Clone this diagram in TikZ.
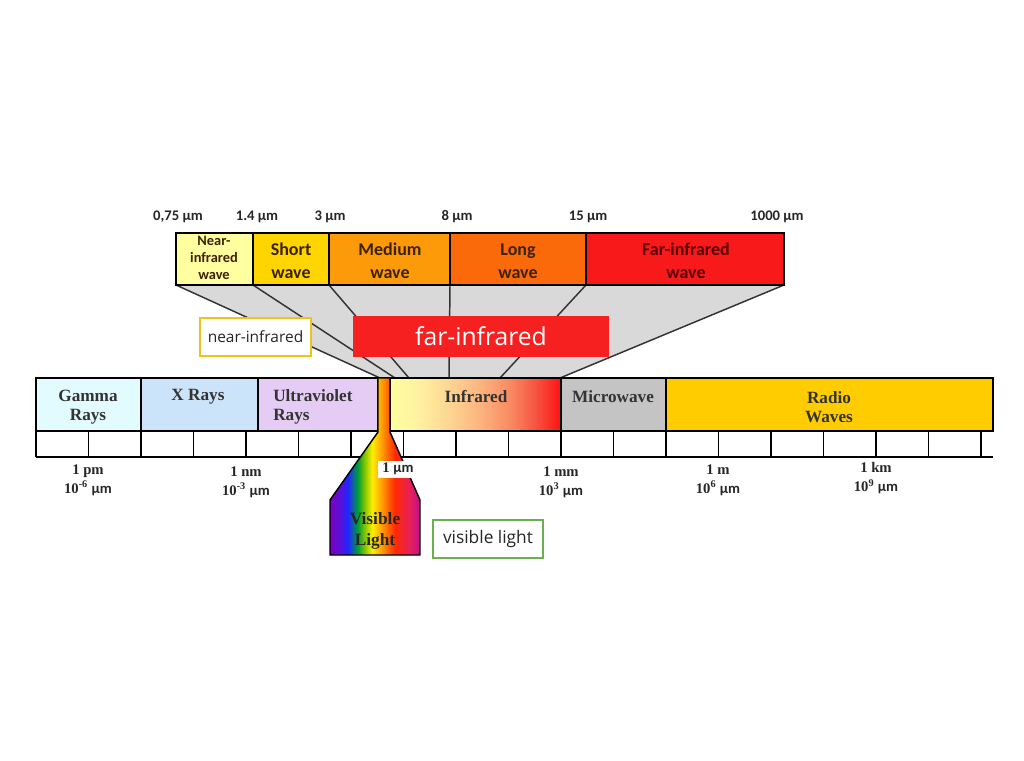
\documentclass[tikz,border=0pt]{standalone}
\usepackage{fontspec}
\setmainfont{Liberation Serif}
\newfontfamily\calfont{Carlito}
\newfontfamily\osfont{Open Sans}
\definecolor{nirc}{HTML}{FFFFA0}
\definecolor{swc}{HTML}{FFD500}
\definecolor{mwc}{HTML}{FD9A0A}
\definecolor{lwc}{HTML}{FB6A0A}
\definecolor{fwc}{HTML}{F81A1A}
\definecolor{gamc}{HTML}{E2FBFF}
\definecolor{xrc}{HTML}{CCE4FA}
\definecolor{uvc}{HTML}{E5CCF4}
\definecolor{mic}{HTML}{C4C4C4}
\definecolor{radc}{HTML}{FFCC00}
\definecolor{fanc}{HTML}{D9D9D9}
\definecolor{fanline}{HTML}{333333}
\definecolor{redbox}{HTML}{F72020}
\definecolor{nirborder}{HTML}{F2C21B}
\definecolor{visborder}{HTML}{6AB04C}
\definecolor{toptxtc}{HTML}{3D2200}
\definecolor{fartxtc}{HTML}{5A0000}
\definecolor{bartxtc}{HTML}{333333}
% rainbow
\definecolor{rvio}{HTML}{7A00C0}
\definecolor{rvio2}{HTML}{5A10D8}
\definecolor{rblu}{HTML}{1E28FF}
\definecolor{rgrn}{HTML}{00A030}
\definecolor{rygr}{HTML}{8CC800}
\definecolor{ryel}{HTML}{FFEE00}
\definecolor{rorg}{HTML}{FF9900}
\definecolor{rred}{HTML}{FF2A00}
\definecolor{rcrim}{HTML}{E8205A}
\definecolor{rmag}{HTML}{C0108A}
% infrared
\definecolor{ira}{HTML}{FFFFA0}
\definecolor{irb}{HTML}{FFF0A0}
\definecolor{irc}{HTML}{FDD592}
\definecolor{ird}{HTML}{FCB47E}
\definecolor{ire}{HTML}{F98A62}
\definecolor{irf}{HTML}{F65542}
\definecolor{irg}{HTML}{FF1212}
\pgfdeclarehorizontalshading{rainbowshade}{100bp}{color(0bp)=(rvio); color(25bp)=(rvio); color(30.5bp)=(rvio2); color(35bp)=(rblu); color(40.5bp)=(rgrn); color(44.5bp)=(rygr); color(48.5bp)=(ryel); color(54bp)=(rorg); color(61bp)=(rred); color(69bp)=(rcrim); color(75bp)=(rmag); color(100bp)=(rmag)}
\pgfdeclarehorizontalshading{irshade}{100bp}{color(0bp)=(ira); color(25bp)=(ira); color(33.8bp)=(irb); color(42.5bp)=(irc); color(51.3bp)=(ird); color(60.1bp)=(ire); color(67.4bp)=(irf); color(75bp)=(irg); color(100bp)=(irg)}
\begin{document}
\begin{tikzpicture}[x=0.75pt,y=-0.75pt,
  topbox/.style={draw=black, line width=1.1pt},
  barline/.style={draw=black, line width=1.4pt},
  fanedge/.style={draw=fanline, line width=1.1pt},
  toptxt/.style={font=\calfont\bfseries\fontsize{13.5}{17.25}\selectfont, text=toptxtc, align=center, inner sep=0pt},
  topscale/.style={font=\calfont\bfseries\fontsize{11}{13}\selectfont, text=black!85, inner sep=0pt},
  bartxt/.style={font=\bfseries\fontsize{12.9}{14.25}\selectfont, text=bartxtc, inner sep=0pt},
  scaletxt/.style={font=\bfseries\fontsize{11}{14.25}\selectfont, text=black!85, align=center, inner sep=0pt},
  annot/.style={font=\osfont, fill=white, line width=1.1pt, inner sep=0pt}
]
\useasboundingbox (0,0) rectangle (1024,760);

% fan coordinates
\coordinate (t0) at (176,285); \coordinate (b0) at (380,378);
\coordinate (t1) at (253,285); \coordinate (b1) at (395,378);
\coordinate (t2) at (329,285); \coordinate (b2) at (409,378);
\coordinate (t3) at (450,285); \coordinate (b3) at (449,378);
\coordinate (t4) at (586,285); \coordinate (b4) at (500,378);
\coordinate (t5) at (784,285); \coordinate (b5) at (560,378);
\fill[fanc] (t0) -- (t5) -- (b5) -- (b0) -- cycle;
\foreach \i in {0,...,5} \draw[fanedge] (t\i) -- (b\i);

% top band
\filldraw[topbox, fill=nirc] (176,233) rectangle (253,285);
\filldraw[topbox, fill=swc] (253,233) rectangle (329,285);
\filldraw[topbox, fill=mwc] (329,233) rectangle (450,285);
\filldraw[topbox, fill=lwc] (450,233) rectangle (586,285);
\filldraw[topbox, fill=fwc] (586,233) rectangle (784,285);
\node[toptxt, font=\calfont\bfseries\fontsize{10.8}{12.75}\selectfont] (nirw) at (214,258) {Near-\\infrared\\wave};
\node[toptxt] (sw) at (291,261) {Short\\wave};
\node[toptxt] (mw) at (390,261) {Medium\\wave};
\node[toptxt] (lw) at (518,261) {Long\\wave};
\node[toptxt, text=fartxtc] (fw) at (686,261) {Far-infrared\\wave};

\node[topscale] (s0) at (178,217) {0,75 µm};
\node[topscale] (s1) at (257,217) {1.4 µm};
\node[topscale] (s2) at (330,217) {3 µm};
\node[topscale] (s3) at (457,217) {8 µm};
\node[topscale] (s4) at (588,217) {15 µm};
\node[topscale] (s5) at (777,217) {1000 µm};

% main bar
\fill[gamc] (36,378) rectangle (141,431);
\fill[xrc] (141,378) rectangle (258,431);
\fill[uvc] (258,378) rectangle (378,431);
\shade[shading=irshade] (390,378) rectangle (561,431);
\fill[mic] (561,378) rectangle (666,431);
\fill[radc] (666,378) rectangle (993,431);
\draw[barline] (36,378) rectangle (993,431);
\foreach \xx in {141,258,378,390,561,666} \draw[barline] (\xx,378) -- (\xx,431);
\draw[barline] (36,457) -- (993,457);
\foreach \k in {0,...,18} \draw[barline] ({36+52.5*\k},431) -- ({36+52.5*\k},457);

% funnel
\shade[shading=rainbowshade, draw=black, line width=1.1pt] (378,378) -- (390,378) -- (390,432) -- (420,500) -- (420,555) -- (330,555) -- (330,500) -- (378,432) -- cycle;
\node[font=\bfseries\fontsize{13}{15.75}\selectfont, text=black!85, align=center, inner sep=0pt] (vis) at (375,531) {Visible\\Light};

% bar labels
\node[bartxt, align=center] (gam) at (88,407) {Gamma\\Rays};
\node[bartxt] (xr) at (198,397) {X Rays};
\node[bartxt, align=left, anchor=west] (uv) at (273,407) {Ultraviolet\\Rays};
\node[bartxt] (ir) at (476,397) {Infrared};
\node[bartxt] (mi) at (613,397) {Microwave};
\node[bartxt, align=center] (rad) at (829,407) {Radio\\Waves};

% scale labels
\node[scaletxt] (l1) at (88,480) {1 pm\\10\textsuperscript{-6} {\calfont µm}};
\node[scaletxt] (l2) at (246,482) {1 nm\\10\textsuperscript{-3} {\calfont µm}};
\node[scaletxt, fill=white, minimum width=30.75pt, minimum height=12.75pt] (l3) at (398,469) {1 {\calfont µm}};
\node[scaletxt] (l4) at (561,482) {1 mm\\10\textsuperscript{3} {\calfont µm}};
\node[scaletxt] (l5) at (718,480) {1 m\\10\textsuperscript{6} {\calfont µm}};
\node[scaletxt] (l6) at (876,478) {1 km\\10\textsuperscript{9} {\calfont µm}};

% annotations
\node[annot, draw=nirborder, minimum width=83.25pt, minimum height=28.5pt, font=\osfont\fontsize{11.6}{14}\selectfont, text=black!85] (nir) at (255.5,337) {near-infrared};
\node[annot, fill=redbox, draw=none, minimum width=192pt, minimum height=30.75pt, font=\osfont\fontsize{18.5}{22}\selectfont, text=white] (far) at (481,336.5) {far-infrared};
\node[annot, draw=visborder, minimum width=82.5pt, minimum height=28.5pt, font=\osfont\fontsize{13}{16}\selectfont, text=black!85] (vl) at (488,539) {visible light};
\end{tikzpicture}
\end{document}
